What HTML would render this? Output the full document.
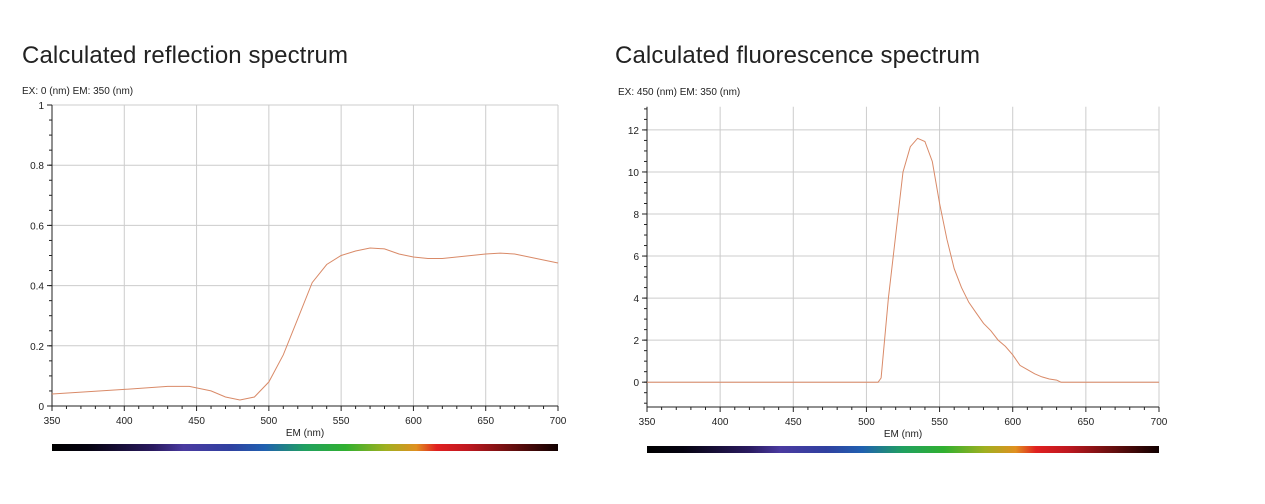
<!DOCTYPE html>
<html><head><meta charset="utf-8"><style>
body{margin:0;background:#fff;width:1265px;height:499px;overflow:hidden;font-family:"Liberation Sans",sans-serif}
</style></head><body>
<svg id="s" width="1265" height="499" xmlns="http://www.w3.org/2000/svg" font-family="Liberation Sans, sans-serif">
<defs>
<linearGradient id="sp" x1="0" x2="1">
<stop offset="0" stop-color="#000"/><stop offset="0.07" stop-color="#050310"/><stop offset="0.2" stop-color="#2a1a60"/><stop offset="0.26" stop-color="#4a3aa0"/><stop offset="0.35" stop-color="#3040a0"/><stop offset="0.42" stop-color="#2060b0"/><stop offset="0.5" stop-color="#20a060"/><stop offset="0.58" stop-color="#30b030"/><stop offset="0.66" stop-color="#a0b020"/><stop offset="0.72" stop-color="#e09020"/><stop offset="0.76" stop-color="#e02020"/><stop offset="0.82" stop-color="#c01820"/><stop offset="0.9" stop-color="#701010"/><stop offset="1" stop-color="#100000"/>
</linearGradient></defs>
<text x="22" y="63" font-size="24" fill="#222" textLength="326">Calculated reflection spectrum</text>
<text x="615" y="63" font-size="24" fill="#222" textLength="365">Calculated fluorescence spectrum</text>
<text x="22" y="94" font-size="10" fill="#222">EX: 0 (nm) EM: 350 (nm)</text>
<text x="618" y="95" font-size="10" fill="#222">EX: 450 (nm) EM: 350 (nm)</text>
<rect x="52" y="444" width="506" height="7" fill="url(#sp)"/>
<rect x="647" y="446" width="512" height="7" fill="url(#sp)"/>
<g id="g"></g>
</svg>
<script>
var g=document.getElementById('g'),o='';
function L(a,b,c,d,col,w){o+='<line x1="'+a+'" y1="'+b+'" x2="'+c+'" y2="'+d+'" stroke="'+col+'" stroke-width="'+(w||1)+'"/>';}
function T(x,y,t,a){o+='<text x="'+x+'" y="'+y+'" font-size="10" fill="#222" text-anchor="'+(a||'middle')+'">'+t+'</text>';}
function chart(x0,x1,yt,yb,vmin,vmax,maj,minr,ax,data,labfmt){
 var X=function(n){return x0+(n-350)/350*(x1-x0)},Y=function(v){return yb-(v-vmin)/(vmax-vmin)*(yb-yt)};
 for(var n=400;n<=700;n+=50)L(X(n),yt,X(n),ax,'#ccc');
 L(x1,yt,x1,ax,'#ccc');
 var v0=Math.ceil(vmin/maj)*maj;
 for(var v=v0;v<=vmax+1e-9;v+=maj){var y=Y(v);L(x0,y,x1,y,'#ccc');L(x0-5,y,x0,y,'#222');T(x0-8,y+4,labfmt(v),'end');}
 for(var v=Math.ceil(vmin/minr)*minr;v<=vmax+1e-9;v+=minr)L(x0-3,Y(v),x0,Y(v),'#222');
 L(x0,yt,x0,ax,'#222');L(x0,ax,x1,ax,'#222');
 for(var n=350;n<=700;n+=10)L(X(n),ax,X(n),ax+(n%50==0?5:3),'#222');
 for(var n=350;n<=700;n+=50)T(X(n),ax+18,n);
 o+='<text x="'+((x0+x1)/2)+'" y="'+(ax+30)+'" font-size="10" fill="#222" text-anchor="middle">EM (nm)</text>';
 var p=data.map(function(d){return X(d[0]).toFixed(1)+','+Y(d[1]).toFixed(1)}).join(' ');
 o+='<polyline points="'+p+'" fill="none" stroke="#d98a68" stroke-width="1"/>';
}
chart(52,558,105,406,0,1,0.2,0.05,406,[[350,.04],[400,.055],[430,.065],[445,.065],[460,.05],[470,.03],[480,.02],[490,.03],[500,.08],[510,.17],[520,.29],[530,.41],[540,.47],[550,.5],[560,.515],[570,.525],[580,.522],[590,.505],[600,.495],[610,.49],[620,.49],[630,.495],[640,.5],[650,.505],[660,.508],[670,.505],[680,.495],[690,.485],[700,.475]],function(v){return v==0?'0':v==1?'1':v.toFixed(1)});
chart(647,1159,106.8,405.3,-1.1,13.1,2,0.5,407,[[350,0],[508,0],[510,.2],[515,4],[520,7],[525,10],[530,11.2],[535,11.6],[540,11.45],[545,10.5],[550,8.5],[555,6.8],[560,5.4],[565,4.5],[570,3.8],[575,3.3],[580,2.8],[585,2.45],[590,2.0],[595,1.7],[600,1.3],[605,0.8],[610,0.6],[615,0.4],[620,0.25],[625,0.15],[630,0.1],[633,0],[700,0]],function(v){return Math.round(v)});
g.innerHTML=o;
</script>
</body></html>
